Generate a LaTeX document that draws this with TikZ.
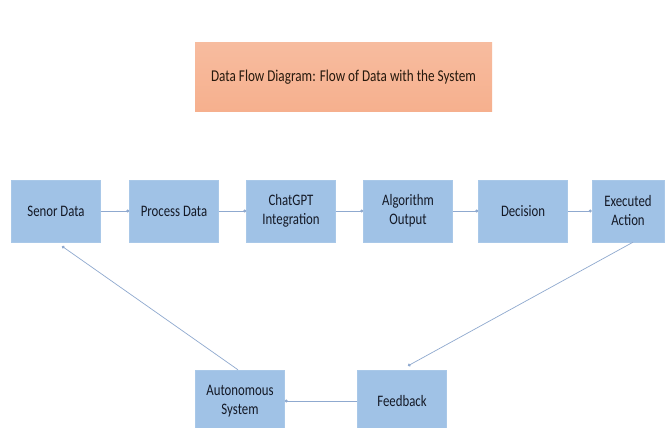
\documentclass[tikz,border=0pt]{standalone}
\usepackage{fontspec}
\setmainfont{Carlito}[FakeStretch=0.8]
\usetikzlibrary{arrows.meta}
\definecolor{boxblue}{HTML}{A0C2E6}
\definecolor{boxedge}{HTML}{A9C8E8}
\definecolor{titlefill}{HTML}{F6B08E}
\definecolor{linec}{HTML}{8FA9CF}
\definecolor{txt}{HTML}{141926}
\tikzset{
  stepbox/.style={draw=boxedge, fill=boxblue, minimum width=89pt, minimum height=62pt, inner sep=1pt, align=center, font=\fontsize{16}{19}\selectfont, text=txt},
  flow/.style={draw=linec, line width=0.7pt, -{Circle[length=3pt]}},
}
\begin{document}
\begin{tikzpicture}[x=1pt,y=-1pt]
\useasboundingbox (0,0) rectangle (669,428);
\fill[white] (0,0) rectangle (669,428);
\node[draw=none, top color=titlefill!85!white, bottom color=titlefill, minimum width=297pt, minimum height=68pt, font=\fontsize{16.5}{18}\selectfont, text=black!80!brown] (title) at (343.5,77) {Data Flow Diagram: Flow of Data with the System};
\node[stepbox] (s1) at (56,211) {Senor Data};
\node[stepbox] (s2) at (174,211) {Process Data};
\node[stepbox] (s3) at (291,211) {ChatGPT\\Integration};
\node[stepbox] (s4) at (408,211) {Algorithm\\Output};
\node[stepbox] (s5) at (523,211) {Decision};
\node[stepbox, minimum width=72pt] (s6) at (628,211) {Executed\\Action};
\node[stepbox] (a1) at (240,401) {Autonomous\\System};
\node[stepbox] (f1) at (402,401) {Feedback};
\draw[flow] (s1) -- (s2);
\draw[flow] (s2) -- (s3);
\draw[flow] (s3) -- (s4);
\draw[flow] (s4) -- (s5);
\draw[flow] (s5) -- (s6);
\coordinate (e1) at ([xshift=5pt]s6.south);
\draw[flow] (e1) -- ([xshift=6pt,yshift=4pt]f1.north);
\draw[flow] (f1) -- (a1);
\draw[flow] ([xshift=-2pt]a1.north) -- ([xshift=6pt,yshift=-4pt]s1.south);
\end{tikzpicture}
\end{document}
